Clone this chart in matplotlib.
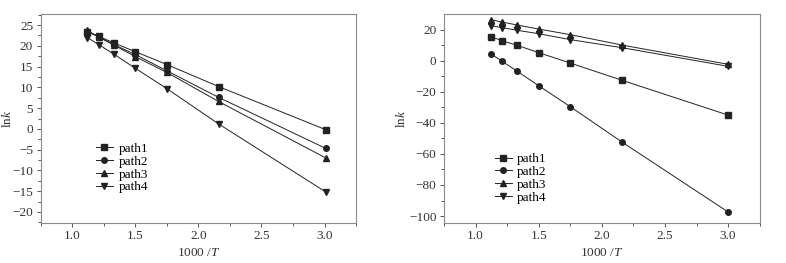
import matplotlib
matplotlib.use('Agg')
import matplotlib.pyplot as plt
from matplotlib.ticker import MultipleLocator

plt.rcParams['font.family'] = ['Liberation Serif', 'DejaVu Serif']
plt.rcParams['mathtext.fontset'] = 'custom'
plt.rcParams['mathtext.it'] = 'Liberation Serif:italic'
plt.rcParams['mathtext.rm'] = 'Liberation Serif'

labels = ['path1', 'path2', 'path3', 'path4']
markers = ['s', 'o', '^', 'v']

# left panel
x_left = [1.12, 1.21, 1.33, 1.50, 1.75, 2.16, 3.01]
left_p1 = [23.4, 22.3, 20.7, 18.6, 15.5, 10.2, -0.2]
left_p2 = [23.4, 22.2, 20.3, 17.9, 14.0, 7.6, -4.7]
left_p3 = [23.7, 22.1, 20.2, 17.4, 13.6, 6.6, -7.0]
left_p4 = [22.0, 20.3, 18.0, 14.6, 9.7, 1.2, -15.2]

# right panel
x_right = [1.12, 1.21, 1.33, 1.50, 1.75, 2.16, 3.00]
right_p1 = [15.5, 12.9, 9.9, 5.2, -1.5, -12.6, -35.0]
right_p2 = [4.5, -0.4, -6.8, -16.1, -29.6, -52.4, -97.4]
right_p3 = [26.4, 24.9, 23.0, 20.4, 16.8, 10.1, -2.3]
right_p4 = [22.6, 21.3, 19.6, 17.4, 13.6, 8.4, -3.6]

fig = plt.figure(figsize=(7.86, 2.63), dpi=100)
ax1 = fig.add_axes([0.0518, 0.1532, 0.4012, 0.7924])
ax2 = fig.add_axes([0.565, 0.1532, 0.4015, 0.7924])

def style(ax, ymaj, ymin, ylim, ylab_x):
    ax.set_xlim(0.75, 3.25)
    ax.set_ylim(*ylim)
    ax.xaxis.set_major_locator(MultipleLocator(0.5))
    ax.xaxis.set_minor_locator(MultipleLocator(0.25))
    ax.yaxis.set_major_locator(MultipleLocator(ymaj))
    ax.yaxis.set_minor_locator(MultipleLocator(ymin))
    ax.xaxis.set_major_formatter(matplotlib.ticker.FormatStrFormatter('%.1f'))
    for s in ax.spines.values():
        s.set_color('#8a8a8a')
        s.set_linewidth(0.8)
    ax.tick_params(which='both', direction='out', colors='#555555', labelcolor='#333333',
                   labelsize=9.5, width=0.7, top=False, right=False)
    ax.tick_params(which='major', length=3, pad=2.5)
    ax.tick_params(which='minor', length=2)
    ax.set_xlabel('1000 /$\\mathit{T}$', fontsize=9.5, color='#333333', labelpad=3)
    ax.set_ylabel('ln$\\mathit{k}$', fontsize=9.5, color='#333333')
    ax.yaxis.set_label_coords(ylab_x, 0.5)

for ys, m, lab in zip([left_p1, left_p2, left_p3, left_p4], markers, labels):
    ax1.plot(x_left, ys, marker=m, color='#222222', lw=0.7, ms=4, label=lab)
for ys, m, lab in zip([right_p1, right_p2, right_p3, right_p4], markers, labels):
    ax2.plot(x_right, ys, marker=m, color='#222222', lw=0.7, ms=4, label=lab)

style(ax1, 5, 2.5, (-22.6, 27.6), -0.085)
style(ax2, 20, 10, (-104.3, 29.9), -0.115)

leg_kw = dict(loc='upper left', frameon=False, fontsize=9.5, handlelength=1.3,
              handletextpad=0.4, labelspacing=0.05, borderaxespad=0, borderpad=0)
ax1.legend(bbox_to_anchor=(0.175, 0.385), **leg_kw)
ax2.legend(bbox_to_anchor=(0.16, 0.335), **leg_kw)

fig.savefig('out.png', dpi=100)
